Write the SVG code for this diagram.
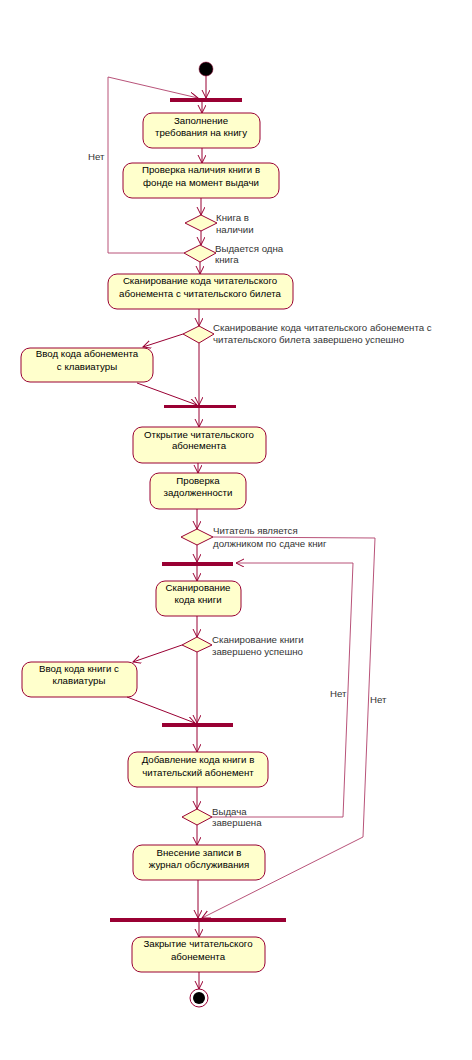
<svg xmlns="http://www.w3.org/2000/svg" width="472" height="1060" viewBox="0 0 472 1060">
<defs>
<marker id="ah" markerWidth="10" markerHeight="10" refX="8" refY="4" orient="auto" markerUnits="userSpaceOnUse">
<path d="M0,0 L8,4 L0,8" fill="none" stroke="#990033" stroke-width="1"/>
</marker>
<style>
.node rect{fill:#ffffcc;stroke:#990033;stroke-width:1}
.node text,.lbl{font-family:"Liberation Sans",Arial,sans-serif;font-size:9.7px;text-anchor:middle;fill:#000}
.lbl{text-anchor:start;fill:#333}
.bar{fill:#990033}
.dia{fill:#ffffcc;stroke:#990033;stroke-width:1}
.c path{fill:none;stroke:#990033;stroke-width:1;marker-end:url(#ah)}
.c path.lt{stroke:#b0406a;stroke-width:0.9}
</style>
</defs>
<rect width="472" height="1060" fill="#fff"/>

<g id="start"><circle cx="206" cy="69" r="7" fill="#000" stroke="#990033" stroke-width="0.5"/></g>
<g id="bar1"><rect class="bar" x="170" y="98" width="72" height="4"/></g>
<g id="n1" class="node"><rect x="143" y="113" width="117" height="35" rx="9"/><text x="201" y="124">Заполнение</text><text x="201" y="136">требования на книгу</text></g>
<g id="n2" class="node"><rect x="123" y="163" width="156" height="35" rx="9"/><text x="201" y="173">Проверка наличия книги в</text><text x="201" y="186">фонде на момент выдачи</text></g>
<g id="d1"><polygon class="dia" points="201,215 217,223 201,231 185,223"/><text class="lbl" x="216" y="221">Книга в</text><text class="lbl" x="216" y="233">наличии</text></g>
<g id="d2"><polygon class="dia" points="200,245 216,253 200,262 184,253"/><text class="lbl" x="215" y="252">Выдается одна</text><text class="lbl" x="215" y="263">книга</text></g>
<g id="n3" class="node"><rect x="108" y="274" width="185" height="35" rx="9"/><text x="200" y="284">Сканирование кода читательского</text><text x="200" y="297">абонемента с читательского билета</text></g>
<g id="d3"><polygon class="dia" points="199,326 214,334 199,343 183,334"/><text class="lbl" x="213" y="331">Сканирование кода читательского абонемента с</text><text class="lbl" x="213" y="343">читательского билета завершено успешно</text></g>
<g id="n4" class="node"><rect x="21" y="348" width="132" height="34" rx="9"/><text x="87" y="357">Ввод кода абонемента</text><text x="87" y="370">с клавиатуры</text></g>
<g id="bar2"><rect class="bar" x="164" y="405" width="72" height="3"/></g>
<g id="n5" class="node"><rect x="133" y="427" width="133" height="36" rx="9"/><text x="199" y="438">Открытие читательского</text><text x="199" y="449">абонемента</text></g>
<g id="n6" class="node"><rect x="150" y="473" width="96" height="36" rx="9"/><text x="198" y="484">Проверка</text><text x="198" y="496">задолженности</text></g>
<g id="d4"><polygon class="dia" points="197,529 213,537 197,545 181,537"/><text class="lbl" x="213" y="534">Читатель является</text><text class="lbl" x="213" y="547">должником по сдаче книг</text></g>
<g id="bar3"><rect class="bar" x="162" y="562" width="71" height="4"/></g>
<g id="n7" class="node"><rect x="156" y="581" width="85" height="35" rx="9"/><text x="198" y="591">Сканирование</text><text x="198" y="603">кода книги</text></g>
<g id="d5"><polygon class="dia" points="197,637 212,645 197,652 182,645"/><text class="lbl" x="212" y="643">Сканирование книги</text><text class="lbl" x="212" y="655">завершено успешно</text></g>
<g id="n8" class="node"><rect x="22" y="662" width="115" height="35" rx="9"/><text x="79" y="672">Ввод кода книги с</text><text x="79" y="684">клавиатуры</text></g>
<g id="bar4"><rect class="bar" x="162" y="723" width="71" height="4"/></g>
<g id="n9" class="node"><rect x="128" y="752" width="140" height="35" rx="9"/><text x="198" y="763">Добавление кода книги в</text><text x="198" y="776">читательский абонемент</text></g>
<g id="d6"><polygon class="dia" points="197,809 212,817 197,825 182,817"/><text class="lbl" x="212" y="815">Выдача</text><text class="lbl" x="212" y="826">завершена</text></g>
<g id="n10" class="node"><rect x="133" y="845" width="132" height="35" rx="9"/><text x="199" y="856">Внесение записи в</text><text x="199" y="868">журнал обслуживания</text></g>
<g id="bar5"><rect class="bar" x="110" y="918" width="176" height="4"/></g>
<g id="n11" class="node"><rect x="132" y="937" width="133" height="35" rx="9"/><text x="198" y="947">Закрытие читательского</text><text x="198" y="960">абонемента</text></g>
<g id="end"><circle cx="199" cy="998" r="9" fill="#fff" stroke="#990033" stroke-width="1"/><circle cx="199" cy="998" r="6" fill="#000"/></g>

<g id="connectors" class="c">
<path d="M206,76 L206,98"/>
<path d="M202,102 L202,113"/>
<path d="M202,148 L202,163"/>
<path d="M201,198 L201,215"/>
<path d="M201,231 L201,245"/>
<path d="M200,262 L200,274"/>
<path class="lt" d="M184,253 L108,253 L108,77 L198,98"/>
<path d="M199,309 L199,326"/>
<path d="M183,334 L143,347"/>
<path d="M199,343 L199,405"/>
<path d="M137,383 L197,405"/>
<path d="M199,408 L199,427"/>
<path d="M198,463 L198,473"/>
<path d="M197,509 L197,529"/>
<path d="M197,545 L197,562"/>
<path class="lt" d="M213,537 L375,538 L363,837 L202,918"/>
<path d="M197,566 L197,581"/>
<path d="M197,616 L197,637"/>
<path d="M182,645 L133,662"/>
<path d="M197,652 L197,723"/>
<path d="M127,697 L195,723"/>
<path d="M197,727 L197,752"/>
<path d="M197,787 L197,809"/>
<path class="lt" d="M212,817 L343,817 L353,563 L236,563"/>
<path d="M197,825 L197,845"/>
<path d="M198,880 L198,918"/>
<path d="M199,922 L199,937"/>
<path d="M199,972 L199,989"/>
</g>
<text class="lbl" x="88" y="160">Нет</text>
<text class="lbl" x="330" y="697">Нет</text>
<text class="lbl" x="370" y="703">Нет</text>
</svg>
